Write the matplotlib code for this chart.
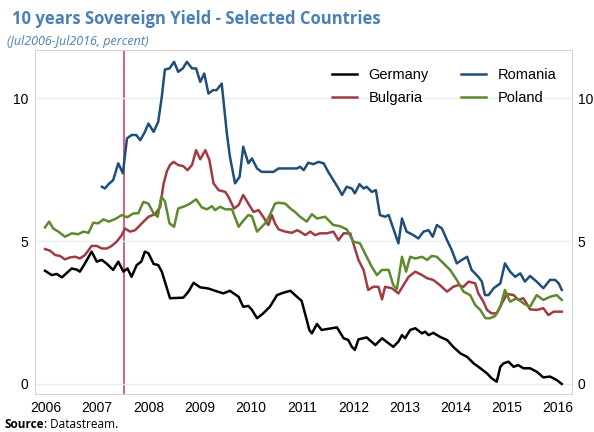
import matplotlib
matplotlib.use("Agg")
import matplotlib.pyplot as plt

# 10-year government bond yields, percent (dates as decimal years)
germany_t = [2005.98, 2006.11, 2006.21, 2006.31, 2006.50, 2006.60, 2006.66, 2006.76, 2006.89, 2006.99,
             2007.09, 2007.19, 2007.31, 2007.41, 2007.51, 2007.59, 2007.67, 2007.77, 2007.86, 2007.93,
             2008.00, 2008.10, 2008.19, 2008.26, 2008.42, 2008.68, 2008.78, 2008.88, 2009.01, 2009.17,
             2009.30, 2009.46, 2009.59, 2009.76, 2009.85, 2009.95, 2010.02, 2010.12, 2010.24, 2010.37,
             2010.51, 2010.63, 2010.77, 2010.90, 2010.99, 2011.09, 2011.14, 2011.19, 2011.29, 2011.38,
             2011.68, 2011.81, 2011.90, 2011.97, 2012.03, 2012.10, 2012.26, 2012.43, 2012.56, 2012.69,
             2012.78, 2012.88, 2012.95, 2013.01, 2013.11, 2013.21, 2013.34, 2013.40, 2013.47, 2013.56,
             2013.69, 2013.83, 2013.95, 2014.09, 2014.22, 2014.35, 2014.48, 2014.61, 2014.70, 2014.80,
             2014.87, 2014.93, 2015.03, 2015.13, 2015.22, 2015.32, 2015.45, 2015.58, 2015.71, 2015.84,
             2015.97, 2016.07]
germany = [3.96, 3.81, 3.85, 3.73, 4.04, 4.00, 3.93, 4.22, 4.63, 4.28,
           4.34, 4.20, 3.99, 4.28, 3.93, 4.04, 3.75, 4.16, 4.28, 4.63,
           4.57, 4.20, 4.16, 3.93, 3.00, 3.02, 3.23, 3.54, 3.38, 3.34,
           3.26, 3.17, 3.26, 3.05, 2.70, 2.73, 2.59, 2.30, 2.47, 2.70,
           3.11, 3.19, 3.26, 3.05, 2.91, 2.24, 1.89, 1.77, 2.10, 1.89,
           1.98, 1.60, 1.54, 1.30, 1.19, 1.56, 1.63, 1.36, 1.60, 1.42,
           1.30, 1.48, 1.71, 1.60, 1.89, 1.95, 1.77, 1.83, 1.71, 1.79,
           1.65, 1.54, 1.30, 1.07, 0.95, 0.72, 0.55, 0.37, 0.20, 0.08,
           0.60, 0.72, 0.78, 0.60, 0.66, 0.55, 0.55, 0.43, 0.23, 0.26,
           0.14, 0.00]

bulgaria_t = [2005.98, 2006.08, 2006.18, 2006.27, 2006.37, 2006.47, 2006.57, 2006.66, 2006.76, 2006.89,
              2006.99, 2007.09, 2007.19, 2007.28, 2007.38, 2007.48, 2007.54, 2007.64, 2007.74, 2007.87,
              2008.00, 2008.13, 2008.23, 2008.29, 2008.36, 2008.42, 2008.49, 2008.58, 2008.68, 2008.76,
              2008.85, 2008.93, 2009.01, 2009.11, 2009.19, 2009.27, 2009.37, 2009.50, 2009.56, 2009.67,
              2009.76, 2009.85, 2009.95, 2010.05, 2010.15, 2010.24, 2010.34, 2010.41, 2010.47, 2010.54,
              2010.67, 2010.80, 2010.90, 2010.96, 2011.06, 2011.16, 2011.25, 2011.35, 2011.48, 2011.61,
              2011.71, 2011.81, 2011.94, 2012.00, 2012.10, 2012.20, 2012.29, 2012.39, 2012.49, 2012.56,
              2012.62, 2012.75, 2012.88, 2012.98, 2013.08, 2013.21, 2013.34, 2013.44, 2013.56, 2013.69,
              2013.83, 2013.95, 2014.05, 2014.15, 2014.25, 2014.38, 2014.44, 2014.54, 2014.61, 2014.70,
              2014.80, 2014.90, 2015.00, 2015.13, 2015.22, 2015.32, 2015.45, 2015.58, 2015.71, 2015.81,
              2015.91, 2016.07]
bulgaria = [4.72, 4.66, 4.51, 4.48, 4.36, 4.43, 4.45, 4.39, 4.51, 4.83,
            4.83, 4.74, 4.74, 4.83, 4.98, 5.21, 5.44, 5.33, 5.38, 5.62,
            5.85, 5.94, 6.20, 6.96, 7.45, 7.66, 7.77, 7.66, 7.62, 7.48,
            7.66, 8.18, 7.86, 8.18, 7.83, 7.02, 6.78, 6.72, 6.55, 6.14,
            6.26, 6.61, 6.31, 6.02, 6.08, 5.85, 5.56, 5.91, 5.62, 5.41,
            5.33, 5.29, 5.38, 5.33, 5.21, 5.33, 5.21, 5.27, 5.27, 5.33,
            5.03, 5.27, 5.27, 4.92, 4.34, 3.99, 3.29, 3.40, 3.40, 2.96,
            3.40, 3.35, 3.17, 3.46, 3.75, 3.93, 3.81, 3.70, 3.64, 3.46,
            3.23, 3.40, 3.46, 3.40, 3.58, 3.52, 3.17, 2.88, 2.59, 2.47,
            2.47, 2.82, 3.15, 3.11, 2.94, 3.00, 2.61, 2.59, 2.65, 2.41,
            2.53, 2.53]

poland_t = [2005.98, 2006.06, 2006.14, 2006.24, 2006.37, 2006.50, 2006.63, 2006.73, 2006.83, 2006.92,
            2007.02, 2007.12, 2007.22, 2007.35, 2007.48, 2007.58, 2007.71, 2007.80, 2007.90, 2008.00,
            2008.10, 2008.18, 2008.25, 2008.32, 2008.41, 2008.50, 2008.58, 2008.71, 2008.81, 2008.93,
            2009.04, 2009.14, 2009.24, 2009.30, 2009.40, 2009.50, 2009.63, 2009.76, 2009.85, 2009.95,
            2010.02, 2010.12, 2010.18, 2010.28, 2010.37, 2010.47, 2010.54, 2010.67, 2010.77, 2010.86,
            2010.96, 2011.09, 2011.19, 2011.29, 2011.45, 2011.61, 2011.74, 2011.87, 2012.00, 2012.13,
            2012.26, 2012.36, 2012.46, 2012.56, 2012.69, 2012.78, 2012.85, 2012.95, 2013.03, 2013.11,
            2013.21, 2013.34, 2013.44, 2013.53, 2013.63, 2013.76, 2013.89, 2014.02, 2014.15, 2014.28,
            2014.38, 2014.48, 2014.58, 2014.67, 2014.77, 2014.87, 2014.96, 2015.06, 2015.19, 2015.32,
            2015.45, 2015.58, 2015.71, 2015.84, 2015.97, 2016.07]
poland = [5.48, 5.68, 5.44, 5.33, 5.15, 5.27, 5.24, 5.33, 5.29, 5.64,
          5.62, 5.76, 5.68, 5.77, 5.91, 5.83, 5.97, 5.97, 6.37, 6.31,
          5.97, 5.85, 6.55, 6.40, 5.62, 5.50, 6.14, 6.22, 6.31, 6.46,
          6.18, 6.11, 6.22, 6.08, 6.20, 6.11, 6.11, 5.50, 5.71, 5.91,
          5.87, 5.33, 5.44, 5.62, 5.91, 6.31, 6.34, 6.31, 6.14, 6.02,
          5.85, 5.68, 5.94, 5.79, 5.85, 5.56, 5.52, 5.41, 4.98, 4.92,
          4.45, 4.10, 3.81, 3.99, 3.99, 3.46, 3.31, 4.45, 3.93, 4.45,
          4.39, 4.45, 4.34, 4.48, 4.45, 4.22, 3.99, 3.64, 3.23, 3.11,
          2.76, 2.59, 2.30, 2.30, 2.38, 2.70, 3.29, 2.88, 3.00, 2.82,
          2.70, 3.11, 2.94, 3.05, 3.11, 2.94]

romania_t = [2007.09, 2007.15, 2007.22, 2007.31, 2007.41, 2007.50, 2007.58, 2007.67, 2007.76, 2007.84,
             2007.93, 2008.00, 2008.10, 2008.19, 2008.26, 2008.32, 2008.41, 2008.50, 2008.58, 2008.67,
             2008.75, 2008.85, 2008.93, 2009.01, 2009.09, 2009.17, 2009.26, 2009.33, 2009.43, 2009.53,
             2009.59, 2009.69, 2009.78, 2009.85, 2009.95, 2010.02, 2010.12, 2010.21, 2010.44, 2010.54,
             2010.90, 2010.96, 2011.03, 2011.12, 2011.22, 2011.32, 2011.42, 2011.51, 2011.61, 2011.71,
             2011.78, 2011.87, 2011.97, 2012.03, 2012.12, 2012.20, 2012.26, 2012.36, 2012.44, 2012.52,
             2012.62, 2012.69, 2012.78, 2012.88, 2012.95, 2013.04, 2013.17, 2013.27, 2013.37, 2013.47,
             2013.55, 2013.63, 2013.73, 2013.83, 2013.92, 2014.02, 2014.12, 2014.22, 2014.31, 2014.44,
             2014.51, 2014.57, 2014.64, 2014.74, 2014.87, 2014.96, 2015.06, 2015.16, 2015.26, 2015.35,
             2015.45, 2015.58, 2015.71, 2015.84, 2015.94, 2016.01, 2016.07]
romania = [6.90, 6.84, 6.99, 7.13, 7.72, 7.37, 8.59, 8.71, 8.71, 8.53,
           8.82, 9.11, 8.82, 9.17, 10.05, 11.00, 11.04, 11.27, 10.92, 11.04,
           11.27, 11.04, 11.04, 10.57, 10.86, 10.16, 10.28, 10.28, 10.51, 8.77,
           7.95, 7.02, 7.25, 8.30, 7.72, 7.89, 7.54, 7.42, 7.42, 7.54,
           7.54, 7.60, 7.48, 7.74, 7.69, 7.77, 7.72, 7.42, 7.13, 6.84,
           6.61, 6.90, 6.84, 6.67, 6.99, 6.84, 6.90, 6.72, 6.78, 5.91,
           5.85, 5.91, 5.44, 4.92, 5.79, 5.33, 5.21, 5.09, 5.33, 5.38,
           5.15, 5.56, 5.44, 5.03, 4.69, 4.22, 4.34, 4.45, 3.99, 3.75,
           3.58, 3.11, 3.11, 3.35, 3.52, 4.22, 3.93, 3.75, 3.87, 3.58,
           3.78, 3.58, 3.35, 3.64, 3.64, 3.52, 3.29]

years = list(range(2006, 2017))
crisis_line = 2007.52

title_blue = "#4a80b4"
fig = plt.figure(figsize=(5.94, 4.32), dpi=100)
ax = fig.add_axes([0.059, 0.088, 0.904, 0.796])

ax.plot(germany_t, germany, color="black", lw=1.8, label="Germany")
ax.plot(bulgaria_t, bulgaria, color="#a23a44", lw=1.8, label="Bulgaria")
ax.plot(romania_t, romania, color="#1f4e7a", lw=1.8, label="Romania")
ax.plot(poland_t, poland, color="#5b8a2f", lw=1.8, label="Poland")
ax.axvline(crisis_line, color="#d9607c", lw=1.4, zorder=0)

ax.set_xlim(2005.785, 2016.27)
ax.set_ylim(-0.35, 11.68)
ax.set_yticks([0, 5, 10])
ax.set_xticks(years)
ax.set_xticklabels([str(y) for y in years])
ax.grid(axis="y", color="#e6eeee", lw=1)
ax.set_axisbelow(True)
ax.tick_params(length=0, labelsize=10, pad=5)
for lab in ax.get_xticklabels() + ax.get_yticklabels():
    lab.set_fontfamily("Liberation Sans")
for s in ax.spines.values():
    s.set_color("#d4d4d4")

ax2 = ax.twinx()
ax2.set_ylim(ax.get_ylim())
ax2.set_yticks([0, 5, 10])
ax2.tick_params(length=0, labelsize=10, pad=4)
for lab in ax2.get_yticklabels():
    lab.set_fontfamily("Liberation Sans")
for s in ax2.spines.values():
    s.set_visible(False)

leg = ax.legend(ncol=2, loc="upper right", bbox_to_anchor=(0.995, 0.985), frameon=False,
                prop={"family": "Liberation Sans", "size": 10.5},
                handlelength=1.7, columnspacing=2.2, handletextpad=0.8, labelspacing=0.62)

fig.text(0.02, 0.957, "10 years Sovereign Yield - Selected Countries", color=title_blue,
         fontsize=12, fontweight="bold", family="Open Sans", va="center")
fig.text(0.012, 0.905, "(Jul2006-Jul2016, percent)", color=title_blue,
         fontsize=9, style="italic", family="Open Sans", va="center")

# "Source" in bold, the rest in regular weight right after it
src = fig.text(0.008, 0.017, "Source", fontsize=8.5, fontweight="bold", family="Open Sans", va="center")
fig.canvas.draw()
bb = src.get_window_extent().transformed(fig.transFigure.inverted())
fig.text(bb.x1, 0.017, ": Datastream.", fontsize=8.5, family="Open Sans", va="center")

fig.savefig("out.png", dpi=100)
